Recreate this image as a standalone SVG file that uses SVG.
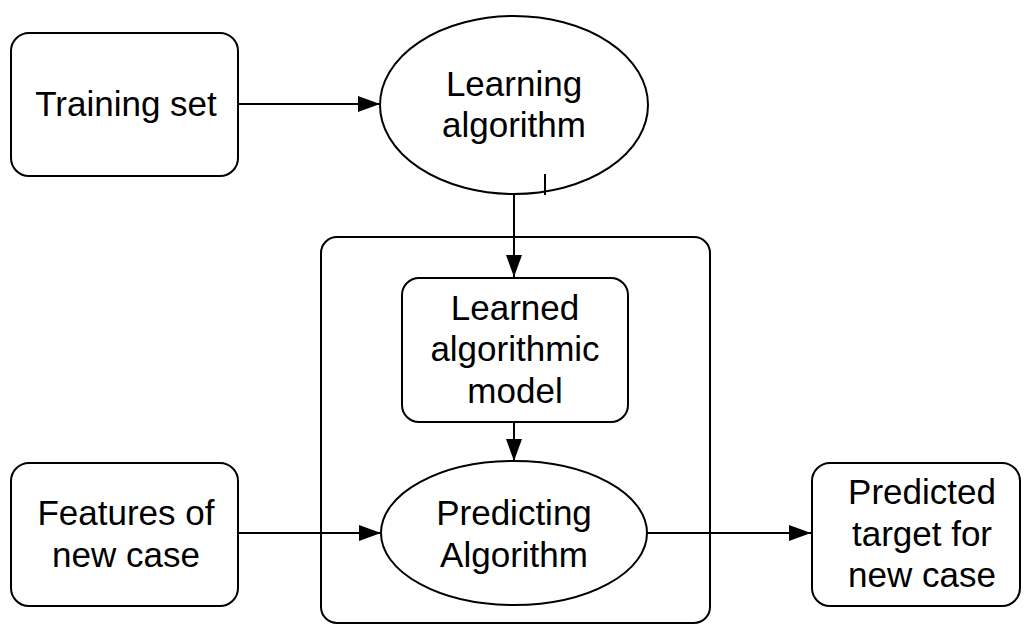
<svg xmlns="http://www.w3.org/2000/svg" width="1024" height="624" viewBox="0 0 1024 624">
<style>
.box{fill:#fff;stroke:#000;stroke-width:2}
.edge{fill:none;stroke:#000;stroke-width:2}
text{font-family:"Liberation Sans",Arial,sans-serif;font-size:35px;fill:#000;text-anchor:middle}
</style>
<defs>
<marker id="arr" markerUnits="userSpaceOnUse" markerWidth="24" markerHeight="18" refX="22" refY="8" orient="auto">
<path d="M0,0 L22,8 L0,16 z" fill="#000"/>
</marker>
</defs>
<rect width="1024" height="624" fill="#fff"/>
<g id="container"><rect class="box" x="321" y="237" width="389" height="386" rx="16"/></g>
<g id="training-set"><rect class="box" x="11" y="33" width="227" height="143" rx="18"/><text x="126" y="116">Training set</text></g>
<g id="learning-algorithm"><ellipse class="box" cx="514" cy="105" rx="134" ry="89"/><text x="514" y="96">Learning</text><text x="514" y="137">algorithm</text><line class="edge" x1="545" y1="174" x2="545" y2="195"/></g>
<g id="learned-model"><rect class="box" x="402" y="278" width="226" height="144" rx="17"/><text x="515" y="320">Learned</text><text x="515" y="361">algorithmic</text><text x="515" y="403">model</text></g>
<g id="predicting-algorithm"><ellipse class="box" cx="514" cy="533" rx="133" ry="72"/><text x="514" y="525">Predicting</text><text x="514" y="567">Algorithm</text></g>
<g id="features"><rect class="box" x="11" y="463" width="227" height="143" rx="18"/><text x="126" y="525">Features of</text><text x="126" y="567">new case</text></g>
<g id="predicted-target"><rect class="box" x="812" y="463" width="208" height="143" rx="18"/><text x="922" y="504">Predicted</text><text x="922" y="546">target for</text><text x="922" y="587">new case</text></g>
<g id="connectors">
<line class="edge" x1="238" y1="104" x2="380" y2="104" marker-end="url(#arr)"/>
<line class="edge" x1="514" y1="194" x2="514" y2="277" marker-end="url(#arr)"/>
<line class="edge" x1="514" y1="422" x2="514" y2="461" marker-end="url(#arr)"/>
<line class="edge" x1="238" y1="533" x2="381" y2="533" marker-end="url(#arr)"/>
<line class="edge" x1="647" y1="533" x2="811" y2="533" marker-end="url(#arr)"/>
</g>
</svg>
